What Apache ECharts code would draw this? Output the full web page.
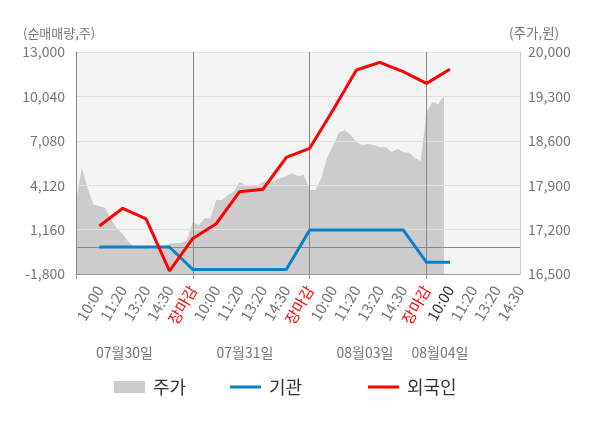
<!DOCTYPE html>
<html>
<head>
<meta charset="utf-8">
<script src="https://cdn.jsdelivr.net/npm/echarts/dist/echarts.min.js"></script>
<style>
html,body{margin:0;padding:0;background:#ffffff;}
#chart{width:600px;height:428px;}
</style>
</head>
<body>
<div id="chart"></div>
<script>
// ---- data ----
const timeLabels = ['', '10:00','11:20','13:20','14:30','장마감',
                    '10:00','11:20','13:20','14:30','장마감',
                    '10:00','11:20','13:20','14:30','장마감',
                    '10:00','11:20','13:20','14:30'];
const dayLabels = ['07월30일','07월31일','08월03일','08월04일'];
// 외국인 순매매량 (주)
const foreignNet = [null, 1400, 2580, 1870, -1600, 570, 1550, 3690, 3850, 5980, 6580,
                    9130, 11800, 12310, 11690, 10910, 11850, null, null, null];
// 기관 순매매량 (주)
const institutionNet = [null, 0, 0, 0, 0, -1500, -1500, -1500, -1500, -1500, 1140,
                        1140, 1140, 1140, 1140, -1020, -1020, null, null, null];
// 주가 (원), sampled every quarter slot of the time axis
const priceArea = [17650, 18170, 17850, 17590, 17570, 17540, 17350, 17225, 17130, 17005,
                   16910, 16940, 16925, 16895, 16925, 16925, 16975, 16990, 16990, 17035,
                   17320, 17270, 17380, 17380, 17665, 17665, 17745, 17795, 17950, 17905,
                   17905, 17885, 17950, 17950, 17965, 18015, 18045, 18090, 18045, 18060,
                   17825, 17825, 18015, 18345, 18520, 18725, 18770, 18690, 18580, 18535,
                   18550, 18535, 18500, 18500, 18425, 18470, 18425, 18410, 18330, 18280,
                   19055, 19210, 19180, 19305];
const leftTicks = {min: -1800, max: 13000, interval: 2960};
const rightTicks = {min: 16500, max: 20000, interval: 700};
const subSteps = 4;

// ---- layout / style ----
const FONT = '"Noto Sans CJK KR", "Noto Sans", sans-serif';
const dayLabelX = [124.5, 245, 365, 440];
const fineSlots = (timeLabels.length - 1) * subSteps + 1;
const fineCats = Array.from({length: fineSlots}, (_, i) => String(i));
const priceSeries = fineCats.map((_, i) => i < priceArea.length ? priceArea[i] : null);
const legendText = {fontSize: 18, color: '#333', fontFamily: FONT, padding: [0, 0, 0, 3]};

const chart = echarts.init(document.getElementById('chart'), null, {renderer: 'canvas'});
chart.setOption({
  animation: false,
  backgroundColor: '#ffffff',
  textStyle: {fontFamily: FONT},
  grid: {left: 76, right: 80, top: 52, bottom: 154, show: true,
         backgroundColor: '#f4f4f4', borderWidth: 0, containLabel: false},
  legend: [
    {data: [{name: '주가', icon: 'rect'}], left: 114, top: 378, padding: 0,
     itemWidth: 31, itemHeight: 12, textStyle: legendText},
    {data: [{name: '기관', icon: 'rect'}], left: 230, top: 378, padding: 0,
     itemWidth: 31, itemHeight: 3, textStyle: legendText},
    {data: [{name: '외국인', icon: 'rect'}], left: 368, top: 378, padding: 0,
     itemWidth: 31, itemHeight: 3, textStyle: legendText}
  ],
  xAxis: [
    {type: 'category', data: timeLabels, boundaryGap: false, position: 'bottom', z: 3,
     axisLine: {show: true, onZero: false, lineStyle: {color: '#999', width: 1}},
     axisTick: {show: true, interval: (i) => i % 5 === 0, length: 5, lineStyle: {color: '#999'}},
     splitLine: {show: true, interval: (i) => i > 0 && i % 5 === 0, lineStyle: {color: '#888', width: 1}},
     axisLabel: {interval: 0, rotate: 60, margin: 13, fontSize: 15, fontFamily: FONT,
                 color: (v, i) => (i === 16 ? '#333' : (v === '장마감' ? '#ff0000' : '#777'))}},
    {type: 'category', data: fineCats, boundaryGap: false, show: false}
  ],
  yAxis: [
    {type: 'value', position: 'left', min: leftTicks.min, max: leftTicks.max, interval: leftTicks.interval, z: 3,
     axisLine: {show: true, lineStyle: {color: '#888'}}, axisTick: {show: false},
     splitLine: {show: true, lineStyle: {color: '#e0e0e0', width: 1}},
     axisLabel: {fontSize: 14, color: '#777', margin: 11, fontFamily: FONT}},
    {type: 'value', position: 'right', min: rightTicks.min, max: rightTicks.max, interval: rightTicks.interval, z: 3,
     axisLine: {show: true, lineStyle: {color: '#ccc'}}, axisTick: {show: false},
     splitLine: {show: false},
     axisLabel: {fontSize: 14, color: '#777', margin: 8, fontFamily: FONT}}
  ],
  graphic: [
    ...dayLabels.map((t, i) => ({type: 'text', silent: true,
      style: {text: t, x: dayLabelX[i], y: 353, align: 'center', verticalAlign: 'middle',
              fill: '#777', font: '14px ' + FONT}})),
    {type: 'text', silent: true, style: {text: '(순매매량,주)', x: 23, y: 33, align: 'left', verticalAlign: 'middle',
      fill: '#777', font: '13px ' + FONT}},
    {type: 'text', silent: true, style: {text: '(주가,원)', x: 509, y: 33, align: 'left', verticalAlign: 'middle',
      fill: '#777', font: '13.5px ' + FONT}}
  ],
  series: [
    {name: '주가', type: 'line', xAxisIndex: 1, yAxisIndex: 1, data: priceSeries, z: 2,
     symbol: 'none', color: '#cccccc', lineStyle: {width: 0, color: '#cccccc'},
     areaStyle: {color: '#cccccc', opacity: 1, origin: 'start'}},
    {name: '기관', type: 'line', xAxisIndex: 0, yAxisIndex: 0, data: institutionNet, z: 5,
     symbol: 'none', color: '#0a7fcb', lineStyle: {width: 3, color: '#0a7fcb'},
     markLine: {silent: true, z: 3, symbol: 'none', label: {show: false},
                lineStyle: {color: '#888', width: 1, type: 'solid'}, data: [{yAxis: 0}]}},
    {name: '외국인', type: 'line', xAxisIndex: 0, yAxisIndex: 0, data: foreignNet, z: 6,
     symbol: 'none', color: '#ff0000', lineStyle: {width: 3, color: '#ff0000'}}
  ]
});
</script>
</body>
</html>
